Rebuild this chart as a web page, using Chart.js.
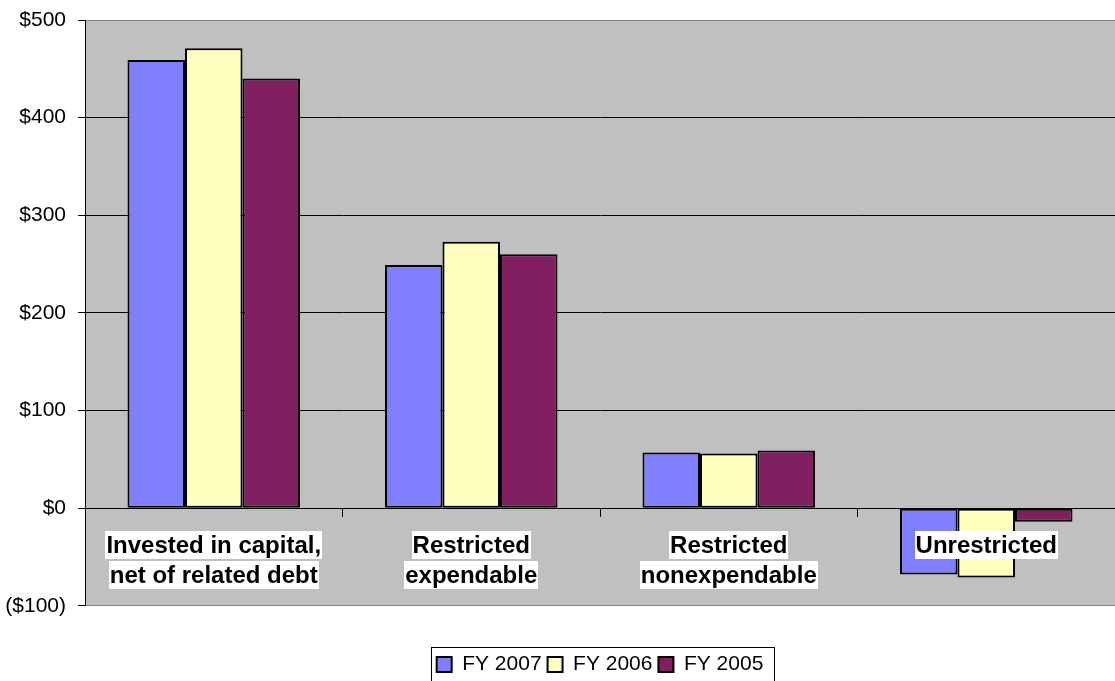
<!DOCTYPE html>
<html>
<head>
<meta charset="utf-8">
<script src="https://cdn.jsdelivr.net/npm/chart.js@4/dist/chart.umd.min.js"></script>
<style>
  html, body { margin: 0; padding: 0; background: #ffffff; }
  #wrap { width: 1115px; height: 681px; }
</style>
</head>
<body>
<div id="wrap"><canvas id="netAssetsChart" width="1115" height="681"></canvas></div>
<script>
const categories = [
    ['Invested in capital,', 'net of related debt'],
    ['Restricted', 'expendable'],
    ['Restricted', 'nonexpendable'],
    'Unrestricted'
];
const seriesNames = ['FY 2007', 'FY 2006', 'FY 2005'];
const fy2007 = [459, 249, 57, -68];
const fy2006 = [471, 273, 56, -71];
const fy2005 = [440, 260, 59, -14];
const yTicks = [-100, 0, 100, 200, 300, 400, 500];

const FONT = '"Liberation Sans", Arial, sans-serif';

// gray plot area, white boxes behind category labels, box round the legend
const chartDecor = {
    id: 'chartDecor',
    beforeDraw(chart) {
        const a = chart.chartArea;
        const ctx = chart.ctx;
        ctx.save();
        ctx.fillStyle = '#C0C0C0';
        ctx.fillRect(a.left, a.top, a.right - a.left, a.bottom - a.top);
        ctx.restore();
    },
    afterDatasetsDraw(chart) {
        // x tick labels have z:1 so they get painted after this, on top of the boxes
        const xs = chart.scales.x;
        const ctx = chart.ctx;
        ctx.save();
        ctx.fillStyle = '#FFFFFF';
        xs.getLabelItems(chart.chartArea).forEach(item => {
            const lines = Array.isArray(item.label) ? item.label : [item.label];
            const [tx, ty] = item.options.translation;
            ctx.font = item.font.string;
            lines.forEach((line, i) => {
                const cy = ty + item.textOffset + i * item.font.lineHeight;
                const w = ctx.measureText(line).width;
                ctx.fillRect(Math.round(tx - w / 2) - 1, Math.round(cy - 15), Math.round(w) + 2, 28);
            });
        });
        ctx.restore();
    },
    afterDraw(chart) {
        const boxes = chart.legend.legendHitBoxes;
        if (!boxes || !boxes.length) return;
        let l = Infinity, r = -Infinity, t = Infinity;
        boxes.forEach(b => {
            l = Math.min(l, b.left);
            r = Math.max(r, b.left + b.width);
            t = Math.min(t, b.top);
        });
        const ctx = chart.ctx;
        ctx.save();
        ctx.strokeStyle = '#000000';
        ctx.lineWidth = 1;
        ctx.strokeRect(Math.round(l - 6) + 0.5, Math.round(t - 7) + 0.5, Math.round(r - l + 16), 60);
        ctx.restore();
    }
};

const ctx = document.getElementById('netAssetsChart').getContext('2d');
new Chart(ctx, {
    type: 'bar',
    data: {
        labels: categories,
        datasets: [
            { label: seriesNames[0], data: fy2007, backgroundColor: '#8080FF' },
            { label: seriesNames[1], data: fy2006, backgroundColor: '#FFFFC0' },
            { label: seriesNames[2], data: fy2005, backgroundColor: '#802060' }
        ].map(d => Object.assign(d, {
            borderColor: '#000000',
            borderWidth: 2,
            borderSkipped: false,
            categoryPercentage: 0.67,
            barPercentage: 1.0
        }))
    },
    options: {
        responsive: false,
        animation: false,
        layout: { padding: { top: 0, left: 0, right: 0, bottom: -4 } },
        plugins: {
            tooltip: { enabled: false },
            legend: {
                position: 'bottom',
                fullSize: false,
                title: { display: true, text: '', font: { size: 1 }, padding: { top: 0, bottom: 41 } },
                labels: {
                    color: '#000000',
                    boxWidth: 15,
                    boxHeight: 15,
                    padding: 6,
                    font: { family: FONT, size: 21 }
                }
            }
        },
        scales: {
            x: {
                position: { y: 0 },
                grid: {
                    offset: true,
                    drawOnChartArea: false,
                    drawTicks: true,
                    tickLength: 8,
                    color: '#000000'
                },
                border: { display: true, color: '#000000', width: 1 },
                ticks: {
                    z: 1,
                    color: '#000000',
                    autoSkip: false,
                    maxRotation: 0,
                    padding: 15,
                    font: { family: FONT, size: 24, weight: 'bold', lineHeight: 1.25 }
                }
            },
            y: {
                min: -100,
                max: 500,
                afterBuildTicks(axis) {
                    axis.ticks = yTicks.map(v => ({ value: v }));
                },
                afterFit(axis) {
                    axis.width = 85;
                    axis.paddingTop = 20;
                    axis.paddingBottom = 12;
                },
                grid: {
                    color: c => (c.tick && (c.tick.value === 500 || c.tick.value === -100)) ? '#808080' : '#000000',
                    tickColor: '#000000',
                    tickLength: 7,
                    lineWidth: 1
                },
                border: { display: true, color: '#000000', width: 1 },
                ticks: {
                    color: '#000000',
                    padding: 12,
                    font: { family: FONT, size: 21 },
                    callback: v => v < 0 ? '($' + (-v) + ')' : '$' + v
                }
            }
        }
    },
    plugins: [chartDecor]
});
</script>
</body>
</html>
